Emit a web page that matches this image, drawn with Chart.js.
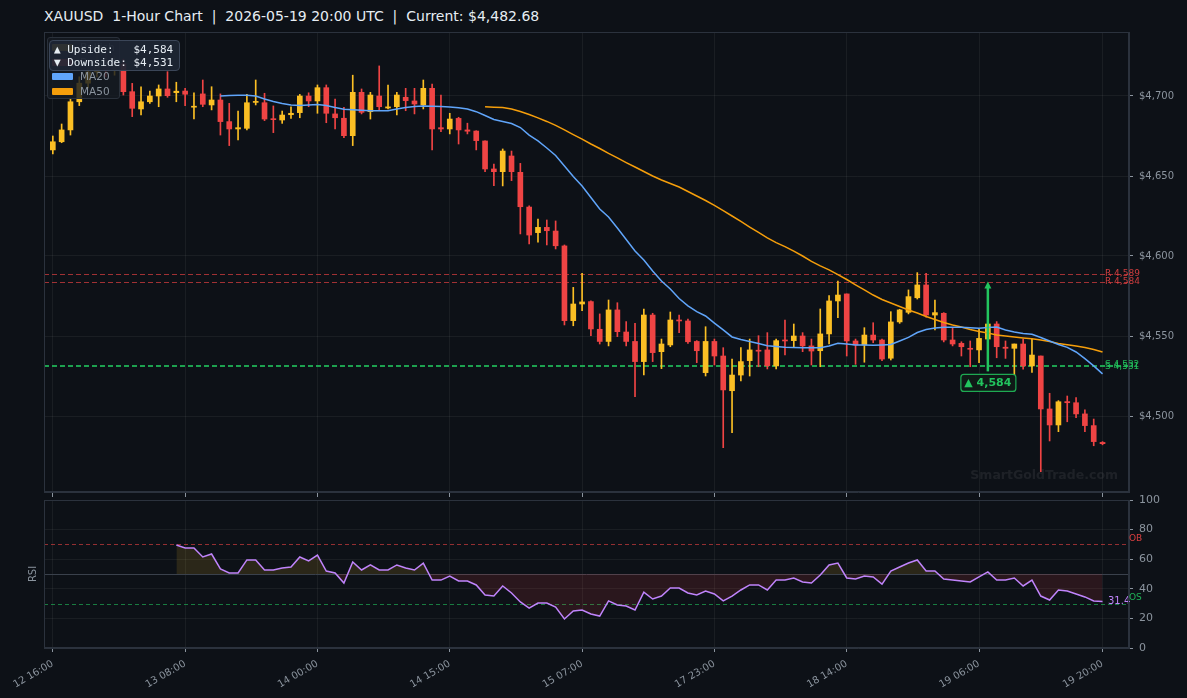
<!DOCTYPE html>
<html>
<head>
<meta charset="utf-8">
<script src="https://cdn.jsdelivr.net/npm/chart.js@4.4.1/dist/chart.umd.min.js"></script>
<style>
  html, body { margin: 0; padding: 0; background: #0d1117; }
  #wrap { position: relative; width: 1187px; height: 698px; overflow: hidden; background: #0d1117; font-family: 'DejaVu Sans', sans-serif; }
  #title { position: absolute; left: 44px; top: 8px; color: #e6edf3; font-size: 14px; line-height: 17px; white-space: pre; }
  #main { position: absolute; left: 0; top: 0; }
  #rsi { position: absolute; left: 0; top: 492px; }
  #legend { position: absolute; left: 47px; top: 37px; width: 73px; height: 62px; box-sizing: border-box;
            background: rgba(22, 27, 34, 0.82); border: 1px solid #2a313b; border-radius: 3px; padding: 2px 0 0 4px; }
  #legend .row { height: 14.5px; line-height: 14.5px; font-size: 10.5px; color: #8b949e; white-space: nowrap; }
  #legend .sw { display: inline-block; width: 21px; height: 7px; border-radius: 1px; margin-right: 7px; vertical-align: -0px; }
  #levelsBox { position: absolute; left: 49px; top: 40px; width: 131px; height: 31px; box-sizing: border-box;
               background: rgba(30, 38, 52, 0.93); border: 1px solid #3b4658; border-radius: 4px;
               padding: 3px 0 0 4px; font-family: 'DejaVu Sans Mono', monospace; font-size: 11px; line-height: 12.5px;
               color: #e6edf3; white-space: pre; }
</style>
</head>
<body>
<div id="wrap">
  <div id="title">XAUUSD  1-Hour Chart  |  2026-05-19 20:00 UTC  |  Current: $4,482.68</div>
  <canvas id="main" width="1187" height="498"></canvas>
  <canvas id="rsi" width="1187" height="206"></canvas>
  <div id="legend">
    <div class="row"><span class="sw" style="background:#fbbf24"></span>Bullish</div>
    <div class="row"><span class="sw" style="background:#ef4444"></span>Bearish</div>
    <div class="row"><span class="sw" style="background:#60a5fa"></span>MA20</div>
    <div class="row"><span class="sw" style="background:#f59e0b"></span>MA50</div>
  </div>
  <div id="levelsBox">▲ Upside:   $4,584
▼ Downside: $4,531</div>
</div>
<script>
// x axis: one slot per hourly candle, labels only on the shown ticks
const tickIdx = [0, 15, 30, 45, 60, 75, 90, 105, 119];
const tickLabels = ['12 16:00', '13 08:00', '14 00:00', '14 15:00', '15 07:00', '17 23:00', '18 14:00', '19 06:00', '19 20:00'];

const opens = [4666.3, 4671.4, 4678.8, 4696.4, 4708.0, 4715.0, 4722.0, 4716.0, 4720.0, 4702.7,
  4691.9, 4696.4, 4700.0, 4704.4, 4702.1, 4703.1, 4693.0, 4701.3, 4694.4, 4697.5,
  4684.0, 4679.4, 4679.8, 4696.0, 4695.8, 4685.8, 4685.0, 4688.3, 4689.6, 4700.0,
  4696.9, 4705.2, 4688.8, 4686.1, 4675.2, 4702.3, 4690.2, 4700.0, 4692.5, 4693.3,
  4699.2, 4696.9, 4694.4, 4704.8, 4680.2, 4679.4, 4686.0, 4678.8, 4678.1, 4671.9,
  4654.4, 4652.7, 4662.5, 4652.3, 4630.6, 4614.6, 4617.9, 4615.6, 4606.3, 4559.6,
  4570.0, 4571.5, 4554.2, 4546.6, 4566.3, 4552.5, 4546.6, 4534.0, 4563.1, 4540.2,
  4544.4, 4560.0, 4559.4, 4546.6, 4527.1, 4546.6, 4537.5, 4515.8, 4525.6, 4534.6,
  4541.0, 4541.3, 4531.3, 4547.2, 4547.1, 4550.0, 4543.8, 4540.8, 4551.3, 4571.9,
  4576.3, 4546.9, 4544.4, 4550.6, 4547.5, 4536.1, 4558.8, 4564.8, 4573.9, 4581.9,
  4563.1, 4564.2, 4547.5, 4545.4, 4542.3, 4541.3, 4548.1, 4557.5, 4543.0, 4542.3,
  4545.0, 4531.3, 4537.5, 4504.4, 4494.4, 4509.0, 4508.3, 4501.3, 4494.0, 4483.5];
const highs = [4675.0, 4682.5, 4698.6, 4712.0, 4720.0, 4727.0, 4726.0, 4725.0, 4723.0, 4707.9,
  4705.8, 4703.1, 4706.9, 4715.2, 4708.6, 4704.8, 4702.0, 4710.0, 4705.8, 4701.3,
  4695.4, 4690.6, 4701.0, 4710.0, 4701.7, 4693.8, 4690.6, 4693.3, 4701.0, 4702.0,
  4706.9, 4706.9, 4698.0, 4692.9, 4713.0, 4704.4, 4702.3, 4718.8, 4706.9, 4702.3,
  4704.8, 4704.8, 4710.0, 4707.5, 4700.6, 4689.2, 4686.7, 4683.0, 4678.3, 4672.0,
  4657.5, 4666.9, 4665.6, 4657.9, 4631.4, 4623.1, 4622.5, 4621.9, 4606.9, 4580.4,
  4589.2, 4572.0, 4563.8, 4572.5, 4570.8, 4559.0, 4557.9, 4566.9, 4564.2, 4548.1,
  4565.0, 4563.1, 4560.6, 4547.1, 4555.8, 4548.1, 4542.7, 4535.6, 4542.7, 4548.1,
  4550.2, 4552.1, 4548.1, 4560.0, 4557.5, 4552.1, 4548.1, 4566.9, 4575.2, 4584.4,
  4576.3, 4548.1, 4555.2, 4558.3, 4548.1, 4565.2, 4566.7, 4578.8, 4589.6, 4589.2,
  4572.5, 4564.6, 4554.8, 4546.4, 4546.9, 4554.2, 4560.0, 4559.0, 4546.9, 4545.0,
  4548.1, 4548.0, 4537.5, 4514.2, 4509.6, 4512.5, 4511.5, 4503.8, 4498.1, 4484.0];
const lows = [4663.8, 4670.8, 4675.6, 4694.0, 4705.0, 4712.0, 4712.0, 4713.0, 4700.6, 4687.1,
  4688.1, 4695.4, 4693.3, 4699.2, 4696.4, 4694.0, 4685.6, 4693.3, 4691.3, 4675.6,
  4669.0, 4672.5, 4678.8, 4694.4, 4684.6, 4677.1, 4682.9, 4686.0, 4686.4, 4693.3,
  4689.2, 4683.3, 4679.4, 4674.0, 4669.0, 4688.8, 4685.6, 4691.3, 4691.9, 4688.1,
  4690.8, 4688.8, 4691.9, 4666.3, 4677.7, 4676.3, 4670.0, 4676.3, 4666.3, 4652.7,
  4643.9, 4643.8, 4647.1, 4613.8, 4607.5, 4608.6, 4606.9, 4604.4, 4556.9, 4556.4,
  4565.8, 4550.2, 4545.0, 4543.8, 4549.6, 4543.8, 4512.1, 4525.6, 4534.0, 4529.6,
  4543.3, 4552.1, 4545.4, 4533.3, 4525.0, 4531.9, 4480.2, 4489.6, 4522.0, 4525.0,
  4530.8, 4529.4, 4529.4, 4538.1, 4542.9, 4540.2, 4531.9, 4530.8, 4545.0, 4561.4,
  4537.5, 4532.3, 4533.6, 4545.8, 4534.6, 4535.0, 4557.9, 4563.8, 4573.1, 4561.7,
  4553.8, 4546.3, 4543.8, 4537.5, 4530.8, 4533.3, 4546.0, 4536.4, 4536.0, 4525.6,
  4529.2, 4527.3, 4465.2, 4484.4, 4490.2, 4496.4, 4499.0, 4490.2, 4481.4, 4482.0];
const closes = [4671.4, 4678.8, 4696.4, 4708.0, 4715.0, 4722.0, 4716.0, 4720.0, 4702.7, 4692.3,
  4696.4, 4700.0, 4704.4, 4700.2, 4703.0, 4701.1, 4693.6, 4694.8, 4697.5, 4684.0,
  4679.4, 4680.2, 4695.8, 4696.5, 4685.6, 4685.2, 4688.1, 4689.2, 4700.0, 4696.9,
  4705.2, 4689.2, 4686.4, 4675.2, 4702.3, 4689.8, 4700.6, 4693.3, 4693.2, 4700.6,
  4697.1, 4695.0, 4704.8, 4679.4, 4679.4, 4685.6, 4678.8, 4678.0, 4672.1, 4654.4,
  4652.7, 4665.6, 4652.7, 4630.8, 4613.1, 4617.9, 4615.8, 4606.4, 4559.6, 4570.0,
  4571.3, 4554.4, 4546.6, 4566.3, 4552.7, 4546.6, 4534.0, 4563.1, 4539.6, 4545.0,
  4560.0, 4559.4, 4546.4, 4540.8, 4546.6, 4537.5, 4516.3, 4525.6, 4534.0, 4541.3,
  4540.5, 4531.4, 4547.1, 4546.9, 4550.0, 4543.8, 4540.6, 4551.3, 4571.9, 4575.6,
  4546.9, 4544.4, 4550.6, 4547.5, 4535.6, 4558.8, 4566.3, 4574.6, 4581.9, 4563.1,
  4564.6, 4547.5, 4545.0, 4543.3, 4541.7, 4548.5, 4557.5, 4543.3, 4542.3, 4545.0,
  4531.3, 4538.1, 4504.4, 4494.4, 4508.9, 4508.3, 4501.3, 4494.0, 4484.0, 4482.7];

// moving averages (first value sits on candle ma*Start)
const ma20Start = 19;
const ma20 = [4700.0, 4700.3, 4700.4, 4700.4, 4700.0, 4698.1, 4696.6, 4695.3, 4694.4, 4694.1,
  4694.4, 4694.7, 4694.1, 4692.8, 4691.7, 4691.4, 4691.1, 4690.8, 4690.8, 4690.8,
  4691.9, 4692.8, 4693.4, 4693.8, 4693.6, 4693.4, 4693.1, 4692.6, 4691.9, 4690.2,
  4687.8, 4685.3, 4684.1, 4682.8, 4680.3, 4675.6, 4671.9, 4667.5, 4662.8, 4656.3,
  4649.7, 4643.8, 4636.6, 4629.4, 4624.4, 4617.5, 4610.3, 4603.1, 4597.5, 4590.6,
  4584.4, 4579.4, 4573.4, 4568.8, 4565.2, 4562.5, 4558.1, 4553.8, 4549.4, 4547.8,
  4546.6, 4545.3, 4543.9, 4543.4, 4542.9, 4542.8, 4542.7, 4542.7, 4542.7, 4543.8,
  4545.5, 4545.0, 4544.4, 4544.4, 4544.2, 4544.4, 4544.7, 4546.9, 4549.1, 4552.2,
  4554.1, 4555.0, 4555.4, 4555.4, 4555.4, 4555.1, 4554.8, 4555.3, 4555.6, 4553.8,
  4552.5, 4551.6, 4551.1, 4549.1, 4546.9, 4544.7, 4542.9, 4540.0, 4535.9, 4531.3, 4526.3];
const ma50Start = 49;
const ma50 = [4693.3, 4693.0, 4692.8, 4691.9, 4690.3, 4688.4, 4686.3, 4684.1, 4681.6, 4678.8,
  4675.9, 4673.1, 4670.0, 4667.2, 4664.1, 4661.3, 4658.4, 4655.6, 4652.8, 4650.0,
  4647.5, 4645.3, 4643.1, 4640.3, 4637.5, 4634.7, 4631.6, 4628.4, 4625.0, 4621.6,
  4618.1, 4614.7, 4611.3, 4608.4, 4605.9, 4603.1, 4600.0, 4596.6, 4593.8, 4591.3,
  4588.4, 4585.3, 4581.9, 4578.8, 4575.6, 4572.8, 4570.6, 4568.4, 4566.3, 4564.4,
  4562.2, 4560.3, 4558.4, 4556.9, 4555.6, 4554.1, 4552.8, 4551.9, 4550.6, 4550.0,
  4549.4, 4548.8, 4548.3, 4547.5, 4546.6, 4545.3, 4544.5, 4543.8, 4542.8, 4541.6, 4540.0];

const rsiStart = 14;
const rsi = [69.6, 67.6, 67.6, 61.5, 63.5, 53.4, 50.7, 50.7, 59.5, 59.5,
  52.7, 52.7, 54.0, 54.7, 61.5, 58.8, 62.8, 52.0, 50.7, 43.9,
  58.1, 52.7, 56.1, 52.7, 52.7, 56.1, 54.0, 52.7, 57.4, 45.9,
  45.9, 48.6, 45.3, 45.3, 42.6, 35.8, 35.1, 41.9, 37.2, 31.1,
  27.0, 30.4, 30.4, 27.7, 19.6, 25.0, 25.7, 23.0, 21.6, 31.8,
  29.1, 28.4, 25.7, 37.8, 33.1, 35.1, 40.5, 40.5, 37.2, 35.8,
  38.5, 36.5, 31.8, 35.1, 39.2, 42.6, 42.6, 39.2, 45.9, 45.9,
  47.3, 44.6, 43.9, 49.3, 56.1, 57.4, 47.3, 46.6, 48.6, 48.0,
  43.2, 52.0, 54.7, 57.4, 59.5, 52.0, 52.0, 46.6, 45.9, 45.3,
  44.6, 48.0, 51.4, 45.9, 45.9, 47.3, 41.9, 45.9, 35.1, 32.4,
  39.2, 38.5, 36.5, 34.5, 31.8, 31.4];

// support / resistance levels and the projected move
const resistance = [4589, 4584];
const support = [4532, 4531];
const targetUp = 4584;
const targetDown = 4531;
const arrowAt = 106;

const GOLD = '#fbbf24', RED = '#ef4444', GREEN = '#22c55e', BLUE = '#60a5fa', ORANGE = '#f59e0b', PURPLE = '#c084fc';
const gridC = 'rgba(255,255,255,0.055)';
const spineC = '#2b323d';
const tickC = '#8b949e';

Chart.defaults.font.family = "'DejaVu Sans', sans-serif";
Chart.defaults.color = tickC;

const candleColors = closes.map((c, i) => c >= opens[i] ? GOLD : RED);
const bodyData = opens.map((o, i) => ({ x: i, y: [o, closes[i]] }));
const wickData = opens.map((o, i) => ({ x: i, y: [lows[i], highs[i]] }));
const ma20Data = ma20.map((v, k) => ({ x: ma20Start + k, y: v }));
const ma50Data = ma50.map((v, k) => ({ x: ma50Start + k, y: v }));
const rsiData = rsi.map((v, k) => ({ x: rsiStart + k, y: v }));

const fmt = v => v.toLocaleString('en-US');

const setXTicks = s => { s.ticks = tickIdx.map(v => ({ value: v })); };
// fixed width for the right axis, and no extra label padding eating the plot height
const fixY = s => { s.width = 58; s.paddingTop = 0; s.paddingBottom = 0; };

// border round the plot area
const frame = {
  id: 'frame',
  afterDraw(chart) {
    const { ctx, chartArea: a } = chart;
    ctx.save();
    ctx.strokeStyle = spineC;
    ctx.lineWidth = 1;
    ctx.strokeRect(a.left + 0.5, a.top + 0.5, a.right - a.left - 1, a.bottom - a.top - 1);
    ctx.restore();
  }
};

const levels = {
  id: 'levels',
  beforeDatasetsDraw(chart) {
    const { ctx, chartArea: a, scales: { y } } = chart;
    ctx.save();
    // watermark
    ctx.font = "bold 12.5px 'DejaVu Sans'";
    ctx.fillStyle = 'rgba(255,255,255,0.07)';
    ctx.textAlign = 'right';
    ctx.textBaseline = 'middle';
    ctx.fillText('SmartGoldTrade.com', a.right - 11, a.bottom - 16);
    ctx.lineWidth = 1.2;
    ctx.setLineDash([5, 3]);
    resistance.forEach(v => {
      const py = Math.round(y.getPixelForValue(v)) + 0.5;
      ctx.strokeStyle = 'rgba(239,68,68,0.65)';
      ctx.beginPath(); ctx.moveTo(a.left, py); ctx.lineTo(a.right, py); ctx.stroke();
    });
    support.forEach(v => {
      const py = Math.round(y.getPixelForValue(v)) + 0.5;
      ctx.strokeStyle = 'rgba(34,197,94,0.8)';
      ctx.beginPath(); ctx.moveTo(a.left, py); ctx.lineTo(a.right, py); ctx.stroke();
    });
    ctx.restore();
  },
  afterDraw(chart) {
    const { ctx, chartArea: a, scales: { x, y } } = chart;
    ctx.save();
    ctx.font = "9px 'DejaVu Sans'";
    ctx.textAlign = 'left';
    ctx.textBaseline = 'middle';
    ctx.fillStyle = 'rgba(239,68,68,0.85)';
    resistance.forEach(v => ctx.fillText('R ' + fmt(v), a.right - 24, y.getPixelForValue(v)));
    ctx.fillStyle = 'rgba(34,197,94,0.9)';
    support.forEach(v => ctx.fillText('S ' + fmt(v), a.right - 24, y.getPixelForValue(v)));

    // arrow from support up to the upside target
    const ax = x.getPixelForValue(arrowAt);
    const yTop = y.getPixelForValue(targetUp);
    const yBot = y.getPixelForValue(targetDown) + 5;
    ctx.strokeStyle = GREEN;
    ctx.fillStyle = GREEN;
    ctx.lineWidth = 2.5;
    ctx.beginPath(); ctx.moveTo(ax, yBot); ctx.lineTo(ax, yTop + 6); ctx.stroke();
    ctx.beginPath(); ctx.moveTo(ax - 3.5, yTop + 7); ctx.lineTo(ax, yTop); ctx.lineTo(ax + 3.5, yTop + 7); ctx.closePath(); ctx.fill();

    // label box
    const bx = ax - 27, by = yBot + 3, bw = 55, bh = 17;
    ctx.fillStyle = '#0f1a17';
    ctx.beginPath(); ctx.roundRect(bx, by, bw, bh, 3); ctx.fill();
    ctx.strokeStyle = 'rgba(34,197,94,0.85)';
    ctx.lineWidth = 1.2;
    ctx.stroke();
    ctx.fillStyle = GREEN;
    ctx.font = "bold 11px 'DejaVu Sans'";
    ctx.textAlign = 'center';
    ctx.fillText('▲ ' + fmt(targetUp), ax, by + bh / 2 + 0.5);
    ctx.restore();
  }
};

new Chart(document.getElementById('main'), {
  type: 'bar',
  data: {
    datasets: [
      { type: 'line', label: 'MA20', data: ma20Data, borderColor: BLUE, borderWidth: 1.5, pointRadius: 0, order: 0 },
      { type: 'line', label: 'MA50', data: ma50Data, borderColor: ORANGE, borderWidth: 1.5, pointRadius: 0, order: 0 },
      { label: 'body', data: bodyData, backgroundColor: candleColors, barThickness: 5, minBarLength: 1, grouped: false, order: 1 },
      { label: 'wick', data: wickData, backgroundColor: candleColors, barThickness: 1, grouped: false, order: 2 }
    ]
  },
  options: {
    responsive: false,
    animation: false,
    layout: { padding: { left: 44, top: 32, right: 0, bottom: 0 } },
    plugins: { legend: { display: false }, tooltip: { enabled: false } },
    scales: {
      x: {
        type: 'linear', min: -1, max: 122, offset: false,
        grid: { color: gridC, offset: false, tickColor: tickC, tickLength: 5 },
        border: { color: spineC },
        ticks: { display: false },
        afterBuildTicks: setXTicks,
        afterFit: s => { s.height = 6; }
      },
      y: {
        position: 'right', min: 4452.5, max: 4740, beginAtZero: false,
        grid: { color: gridC, tickColor: tickC, tickLength: 4 },
        border: { color: spineC },
        ticks: { color: tickC, font: { size: 10 }, padding: 6, callback: v => '$' + fmt(v) },
        afterBuildTicks: s => { s.ticks = [4500, 4550, 4600, 4650, 4700].map(v => ({ value: v })); },
        afterFit: fixY
      }
    }
  },
  plugins: [levels, frame]
});

const rsiGuides = {
  id: 'rsiGuides',
  beforeDatasetsDraw(chart) {
    const { ctx, chartArea: a, scales: { y } } = chart;
    ctx.save();
    ctx.lineWidth = 1;
    const line = (v, color, dash) => {
      const py = Math.round(y.getPixelForValue(v)) + 0.5;
      ctx.strokeStyle = color;
      ctx.setLineDash(dash);
      ctx.beginPath(); ctx.moveTo(a.left, py); ctx.lineTo(a.right, py); ctx.stroke();
    };
    line(50, '#3a414c', []);
    line(70, 'rgba(239,68,68,0.6)', [4, 3]);
    line(30, 'rgba(34,197,94,0.6)', [4, 3]);
    ctx.restore();
  },
  afterDraw(chart) {
    const { ctx, chartArea: a, scales: { y } } = chart;
    ctx.save();
    ctx.font = "9px 'DejaVu Sans'";
    ctx.textBaseline = 'middle';
    ctx.textAlign = 'left';
    ctx.fillStyle = 'rgba(239,68,68,0.9)';
    ctx.fillText('OB', a.right, y.getPixelForValue(70) - 6);
    ctx.fillStyle = 'rgba(34,197,94,0.9)';
    ctx.fillText('OS', a.right, y.getPixelForValue(30) - 6);
    const last = rsi[rsi.length - 1];
    ctx.font = "10px 'DejaVu Sans'";
    ctx.fillStyle = PURPLE;
    ctx.fillText(last.toFixed(1), a.right - 21, y.getPixelForValue(last));
    // axis title on the left
    ctx.fillStyle = tickC;
    ctx.font = "10px 'DejaVu Sans'";
    ctx.textAlign = 'center';
    ctx.translate(33, (a.top + a.bottom) / 2);
    ctx.rotate(-Math.PI / 2);
    ctx.fillText('RSI', 0, 0);
    ctx.restore();
  }
};

new Chart(document.getElementById('rsi'), {
  type: 'line',
  data: {
    datasets: [{
      label: 'RSI', data: rsiData, borderColor: PURPLE, borderWidth: 1.5, pointRadius: 0,
      fill: { target: { value: 50 }, above: 'rgba(251,191,36,0.13)', below: 'rgba(239,68,68,0.13)' }
    }]
  },
  options: {
    responsive: false,
    animation: false,
    layout: { padding: { left: 44, top: 8, right: 0, bottom: 0 } },
    plugins: { legend: { display: false }, tooltip: { enabled: false } },
    scales: {
      x: {
        type: 'linear', min: -1, max: 122, offset: false,
        grid: { color: gridC, tickColor: tickC, tickLength: 4 },
        border: { color: spineC },
        ticks: {
          color: tickC, font: { size: 10 }, autoSkip: false, minRotation: 30, maxRotation: 30, padding: 6,
          callback: v => { const k = tickIdx.indexOf(v); return k >= 0 ? tickLabels[k] : ''; }
        },
        afterBuildTicks: setXTicks,
        afterFit: s => { s.height = 50; }
      },
      y: {
        position: 'right', min: 0, max: 100,
        grid: { color: gridC, tickColor: tickC, tickLength: 4 },
        border: { color: spineC },
        ticks: { color: tickC, font: { size: 11 }, padding: 6, stepSize: 20 },
        afterFit: fixY
      }
    }
  },
  plugins: [rsiGuides, frame]
});
</script>
</body>
</html>
